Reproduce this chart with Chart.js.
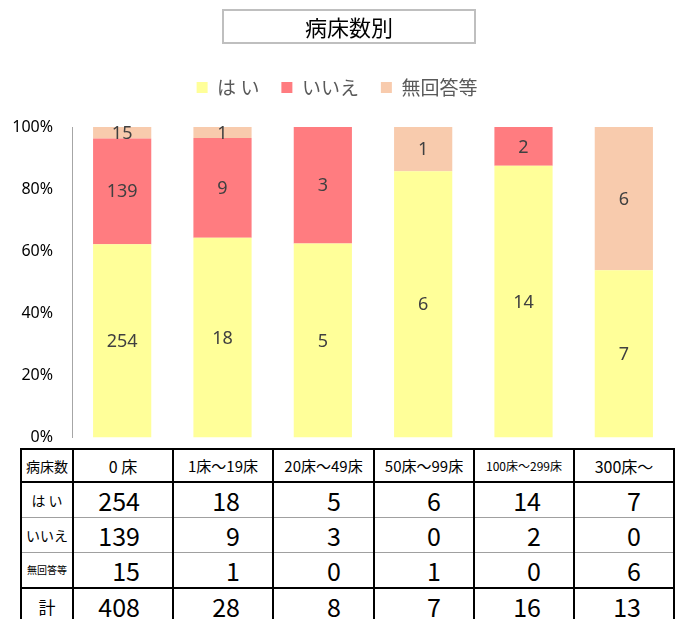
<!DOCTYPE html>
<html>
<head>
<meta charset="utf-8">
<script src="https://cdn.jsdelivr.net/npm/chart.js@4.4.0/dist/chart.umd.min.js"></script>
<style>
  body { margin: 0; width: 675px; height: 619px; position: relative; overflow: hidden; background: #fff; }
  #title {
    position: absolute; left: 222px; top: 9px; width: 250px; height: 31px;
    border: 2px solid #bfbfbf; text-align: center; line-height: 31px;
    font-family: "Noto Sans CJK JP", sans-serif; font-size: 22px; color: #000;
  }
  #wrap { position: absolute; left: 0; top: 0; width: 675px; height: 466px; }
  #tbl {
    position: absolute; left: 20px; top: 448px; border-collapse: collapse; table-layout: fixed;
    font-family: "Noto Sans CJK JP", sans-serif; color: #000; background: #fff;
  }
  #tbl td { border-left: 2px solid #000; border-right: 2px solid #000; padding: 0; line-height: 1; white-space: nowrap; overflow: hidden; }
  #tbl tr.head td { height: 31px; border-top: 2px solid #000; border-bottom: 2px solid #000; text-align: center; font-size: 16px; }
  #tbl tr.row td { height: 34px; border-bottom: 1px solid #a0a0a0; }
  #tbl tr.total td { height: 34px; border-top: 2px solid #000; border-bottom: 2px solid #000; }
  #tbl td.num { text-align: right; padding-right: 32px; font-size: 25px; }
  #tbl td.lab { text-align: center; font-size: 14px; }
</style>
</head>
<body>
<div id="wrap"><canvas id="chart"></canvas></div>
<div id="title">病床数別</div>
<table id="tbl"></table>
<script>
const categories = ["0 床", "1床～19床", "20床～49床", "50床～99床", "100床～299床", "300床～"];
const seriesNames = ["は い", "いいえ", "無回答等"];
const yesCounts = [254, 18, 5, 6, 14, 7];
const noCounts = [139, 9, 3, 0, 2, 0];
const noAnswerCounts = [15, 1, 0, 1, 0, 6];
const seriesColors = ["#ffff99", "#ff7c80", "#f8cbad"];
const yTicks = [0, 20, 40, 60, 80, 100];

const counts = [yesCounts, noCounts, noAnswerCounts];
const totals = categories.map((c, i) => yesCounts[i] + noCounts[i] + noAnswerCounts[i]);
const toPct = (arr) => arr.map((v, i) => (v / totals[i]) * 100);

// value labels in the middle of each segment
const segmentLabels = {
  id: "segmentLabels",
  afterDatasetsDraw(chart) {
    const ctx = chart.ctx;
    ctx.save();
    ctx.font = "18px 'Noto Sans'";
    ctx.fillStyle = "#404040";
    ctx.textAlign = "center";
    ctx.textBaseline = "middle";
    chart.data.datasets.forEach((ds, i) => {
      chart.getDatasetMeta(i).data.forEach((bar, j) => {
        const v = counts[i][j];
        if (!v) return;
        ctx.fillText(String(v), bar.x, (bar.y + bar.base) / 2 + 1);
      });
    });
    ctx.restore();
  },
};

// extra room under the legend
const legendGap = {
  id: "legendGap",
  beforeInit(chart) {
    const fit = chart.legend.fit;
    chart.legend.fit = function () {
      fit.bind(chart.legend)();
      this.height += 20;
    };
  },
};

new Chart(document.getElementById("chart"), {
  type: "bar",
  data: {
    labels: categories,
    datasets: counts.map((arr, i) => ({
      label: seriesNames[i],
      data: toPct(arr),
      backgroundColor: seriesColors[i],
      barPercentage: 0.58,
      categoryPercentage: 1,
    })),
  },
  options: {
    responsive: true,
    maintainAspectRatio: false,
    animation: false,
    layout: { padding: { top: 56, right: 1, bottom: 12, left: 0 } },
    plugins: {
      legend: {
        position: "top",
        labels: {
          boxWidth: 11,
          boxHeight: 11,
          padding: 22,
          color: "#595959",
          font: { family: "'Noto Sans CJK JP'", size: 19 },
        },
      },
      tooltip: { enabled: false },
    },
    scales: {
      x: {
        stacked: true,
        display: false,
      },
      y: {
        stacked: true,
        min: 0,
        max: 100,
        afterFit(scale) { scale.width = 72; },
        afterBuildTicks(scale) { scale.ticks = yTicks.map((v) => ({ value: v })); },
        grid: { display: false, drawTicks: false },
        border: { display: true, color: "#a6a6a6", width: 1 },
        ticks: {
          padding: 19,
          color: "#000",
          font: { family: "'Noto Sans'", size: 16 },
          callback: (v) => v + "%",
        },
      },
    },
  },
  plugins: [segmentLabels, legendGap],
});

// data table under the chart
const tbl = document.getElementById("tbl");
const colgroup = document.createElement("colgroup");
[52, 100, 100, 101, 100, 100, 100].forEach((w) => {
  const col = document.createElement("col");
  col.style.width = w + "px";
  colgroup.appendChild(col);
});
tbl.appendChild(colgroup);

const headSizes = [16, 15, 15, 15, 12, 16];
const head = document.createElement("tr");
head.className = "head";
head.innerHTML = '<td style="font-size:14px">病床数</td>' +
  categories.map((c, i) => `<td style="font-size:${headSizes[i]}px">${c}</td>`).join("");
tbl.appendChild(head);

const rowLabelSizes = [14, 14, 10];
counts.forEach((arr, i) => {
  const tr = document.createElement("tr");
  tr.className = "row";
  tr.innerHTML = `<td class="lab" style="font-size:${rowLabelSizes[i]}px">${seriesNames[i]}</td>` +
    arr.map((v) => `<td class="num">${v}</td>`).join("");
  tbl.appendChild(tr);
});

const totalRow = document.createElement("tr");
totalRow.className = "total";
totalRow.innerHTML = '<td class="lab" style="font-size:17px">計</td>' +
  totals.map((v) => `<td class="num">${v}</td>`).join("");
tbl.appendChild(totalRow);
</script>
</body>
</html>
